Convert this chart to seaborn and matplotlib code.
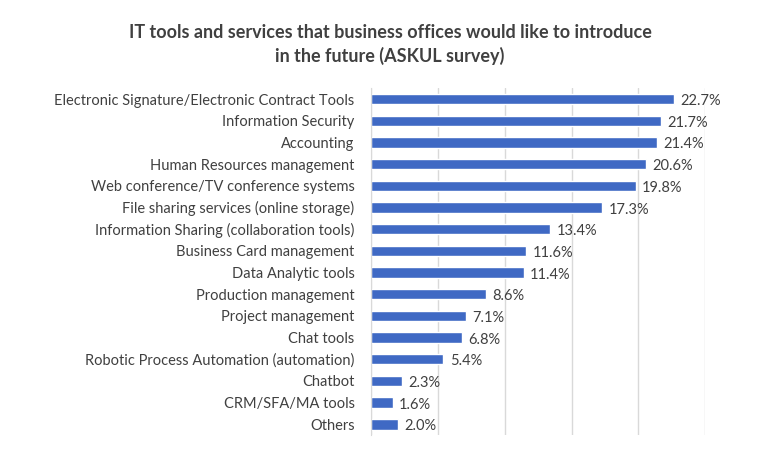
import numpy as np
import pandas as pd
import seaborn as sns
from matplotlib import pyplot as plt

categories = ['Electronic Signature/Electronic Contract Tools', 'Information Security', 'Accounting',
              'Human Resources management', 'Web conference/TV conference systems',
              'File sharing services (online storage)', 'Information Sharing (collaboration tools)',
              'Business Card management', 'Data Analytic tools', 'Production management',
              'Project management', 'Chat tools', 'Robotic Process Automation (automation)',
              'Chatbot', 'CRM/SFA/MA tools', 'Others']
values = [22.7, 21.7, 21.4, 20.6, 19.8, 17.3, 13.4, 11.6, 11.4, 8.6, 7.1, 6.8, 5.4, 2.3, 1.6, 2.0]
value_labels = ['22.7%', '21.7%', '21.4%', '20.6%', '19.8%', '17.3%', '13.4%', '11.6%', '11.4%',
                '8.6%', '7.1%', '6.8%', '5.4%', '2.3%', '1.6%', '2.0%']

df = pd.DataFrame({'category': categories, 'value': values})

sns.set_style('white')
plt.rcParams['font.family'] = ['Lato', 'DejaVu Sans']
text_color = '#404040'

fig = plt.figure(figsize=(7.8, 4.5), dpi=100, facecolor='white')
ax = fig.add_axes([0.476, 0.033, 0.428, 0.771])

sns.barplot(data=df, x='value', y='category', color='#3f69c4', saturation=1,
            width=0.48, orient='h', ax=ax)

ax.set_xlim(0, 25)
ax.set_xticks([0, 5, 10, 15, 20, 25])
ax.xaxis.grid(True, color='#d9d9d9', linewidth=1)
ax.set_axisbelow(True)
ax.set_xticklabels([])
ax.tick_params(axis='x', length=0)
ax.tick_params(axis='y', length=0, pad=12, labelsize=10.5, labelcolor=text_color)
ax.set_xlabel('')
ax.set_ylabel('')
for s in ['top', 'right', 'bottom']:
    ax.spines[s].set_visible(False)
ax.spines['left'].set_color('#d9d9d9')

for i, (v, lab) in enumerate(zip(values, value_labels)):
    ax.annotate(lab, (v, i), xytext=(4.5, -1.5), textcoords='offset points',
                va='center', ha='left', fontsize=10.5, color=text_color)

fig.text(0.5, 0.902, 'IT tools and services that business offices would like to introduce\nin the future (ASKUL survey)',
         ha='center', va='center', fontsize=13, fontweight='bold', color='#404040', linespacing=1.4)

fig.savefig('out.png', dpi=100, facecolor='white')
